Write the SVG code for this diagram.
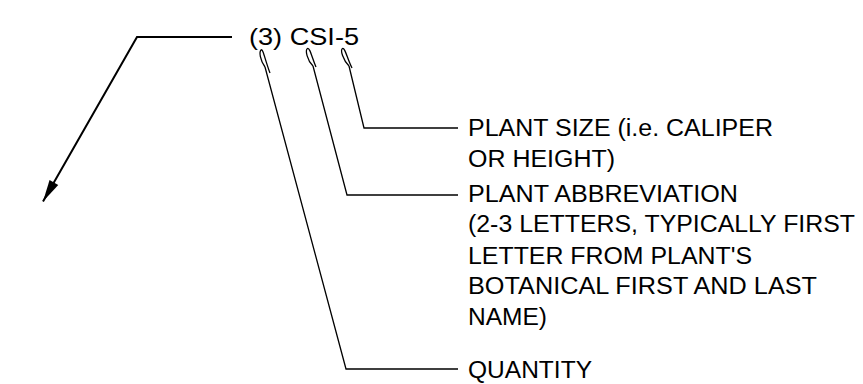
<svg xmlns="http://www.w3.org/2000/svg" width="863" height="384" viewBox="0 0 863 384">
<style>
text{font-family:"Liberation Sans",Arial,sans-serif;font-size:23px;fill:#000}
.ld{fill:none;stroke:#000;stroke-width:1.3}
.ar{fill:none;stroke:#000;stroke-width:2}
</style>
<defs>
<marker id="ah" viewBox="-24 -6 26 12" refX="0" refY="0" markerWidth="26" markerHeight="12" markerUnits="userSpaceOnUse" orient="auto">
<path d="M0,0 L-22,-5 L-22,5 Z" fill="#000"/>
</marker>
</defs>
<rect width="863" height="384" fill="#fff"/>
<g id="connectors">
<path class="ar" d="M232,37 L137,37 L43,201.5" marker-end="url(#ah)"/>
<path class="ld" d="M458,128 L364,128 L349,66"/>
<path class="ld" d="M349,66 C343,60 340,50 342.5,48.5 C345,47.5 347,58 352,68"/>
<path class="ld" d="M458,195 L347,195 L313,66"/>
<path class="ld" d="M313,66 C307,60 305,50 307.5,48.5 C310,47.5 312,58 316,67"/>
<path class="ld" d="M458,369 L346,369 L265,67"/>
<path class="ld" d="M265,67 C260,60 259,52 261,50 C263,48 265,60 270,73"/>
</g>
<g id="label-code"><text x="249" y="45" style="font-size:24px" textLength="110" lengthAdjust="spacingAndGlyphs">(3) CSI-5</text></g>
<g id="plant-size">
<text x="468" y="136" textLength="305" lengthAdjust="spacingAndGlyphs">PLANT SIZE (i.e. CALIPER</text>
<text x="468" y="167" textLength="147" lengthAdjust="spacingAndGlyphs">OR HEIGHT)</text>
</g>
<g id="plant-abbreviation">
<text x="468" y="201.5" textLength="270" lengthAdjust="spacingAndGlyphs">PLANT ABBREVIATION</text>
<text x="468" y="232" textLength="387" lengthAdjust="spacingAndGlyphs">(2-3 LETTERS, TYPICALLY FIRST</text>
<text x="468" y="263.5" textLength="284" lengthAdjust="spacingAndGlyphs">LETTER FROM PLANT'S</text>
<text x="468" y="294" textLength="349" lengthAdjust="spacingAndGlyphs">BOTANICAL FIRST AND LAST</text>
<text x="468" y="324.5" textLength="79" lengthAdjust="spacingAndGlyphs">NAME)</text>
</g>
<g id="quantity"><text x="468" y="378" textLength="124" lengthAdjust="spacingAndGlyphs">QUANTITY</text></g>
</svg>
